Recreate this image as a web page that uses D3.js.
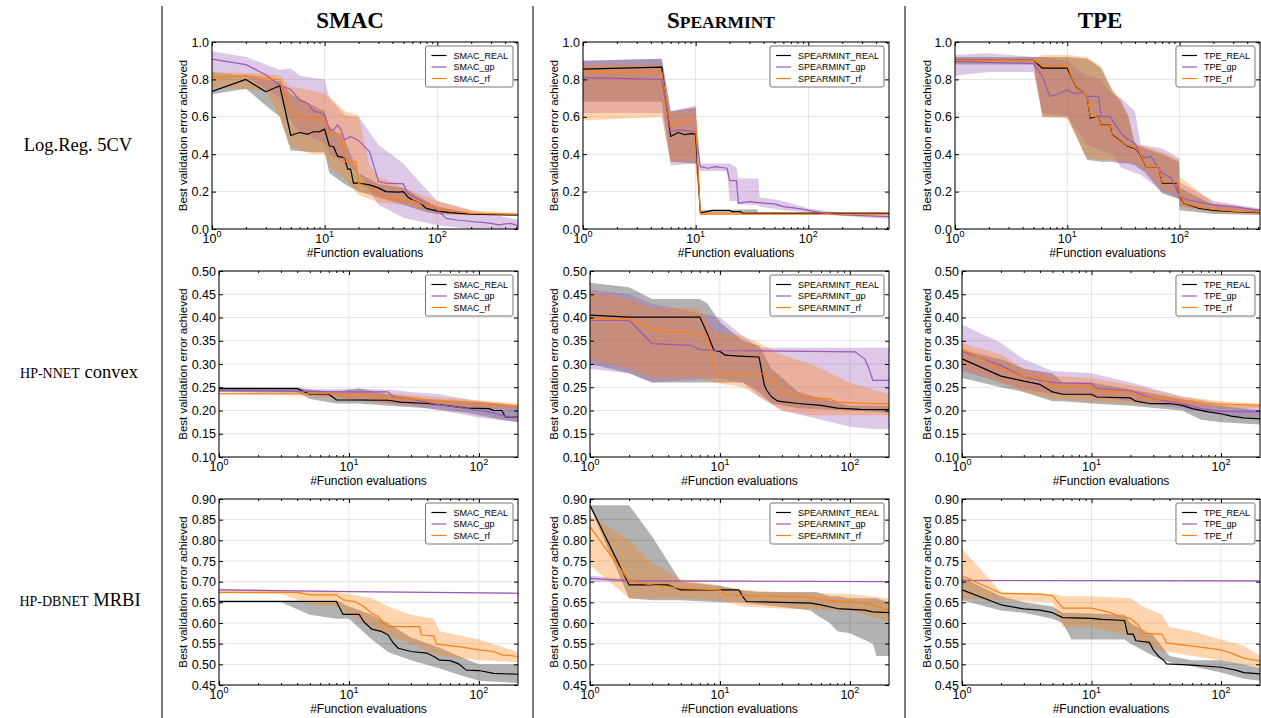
<!DOCTYPE html>
<html>
<head>
<meta charset="utf-8">
<script src="https://cdn.jsdelivr.net/npm/d3@7"></script>
<style>
  body { margin: 0; background: #fff; }
</style>
</head>
<body>
<div class="container"></div>
<script>
const width = 1261;
const height = 718;

const algorithms = ['SMAC', 'SPEARMINT', 'TPE'];
const suffixes = ['_REAL', '_gp', '_rf'];
const xMax = [520, 200, 200];
const yDomains = [[0, 1], [0.1, 0.5], [0.45, 0.9]];
const yTicks = [
  [0, 0.2, 0.4, 0.6, 0.8, 1.0],
  [0.10, 0.15, 0.20, 0.25, 0.30, 0.35, 0.40, 0.45, 0.50],
  [0.45, 0.50, 0.55, 0.60, 0.65, 0.70, 0.75, 0.80, 0.85, 0.90]
];
const xTicks = [1, 10, 100];

// ---- Log.Reg. 5CV ----  [x, mean]  and bands [x, lo, hi]
const lrSmacReal = [[1,.736],[2,.80],[3,.734],[4,.766],[5,.50],[6,.516],[7,.507],[8,.52],[9,.52],[10,.534],[11,.445],[12,.44],[13,.39],[15,.38],[16,.32],[17,.32],[18,.245],[20,.245],[25,.236],[30,.22],[35,.20],[45,.197],[50,.20],[55,.17],[60,.155],[70,.14],[80,.11],[100,.096],[130,.088],[200,.08],[520,.075]];
const lrSmacRealBand = [[1,.72,.84],[2,.75,.82],[3,.66,.80],[4,.60,.79],[5,.42,.72],[8,.41,.66],[10,.41,.63],[11,.30,.55],[15,.24,.48],[20,.20,.30],[30,.17,.24],[50,.13,.22],[80,.09,.15],[100,.08,.12],[200,.075,.085],[520,.07,.08]];
const lrSmacGp = [[1,.909],[2,.879],[3,.825],[4,.77],[5,.745],[6,.69],[7,.673],[8,.63],[9,.623],[10,.61],[11,.53],[12,.53],[13,.557],[14,.53],[15,.477],[17,.495],[20,.473],[25,.414],[28,.316],[30,.254],[35,.245],[50,.241],[55,.19],[70,.155],[90,.12],[100,.10],[120,.057],[150,.048],[200,.04],[250,.035],[300,.03],[350,.022],[400,.027],[450,.03],[520,.016]];
const lrSmacGpBand = [[1,.84,.95],[2,.82,.92],[4,.70,.85],[5,.58,.86],[6,.52,.82],[10,.46,.80],[11,.40,.70],[15,.35,.61],[20,.30,.60],[30,.13,.45],[50,.06,.35],[70,.04,.25],[100,.02,.15],[200,0,.10],[520,0,.05]];
const lrSmacRf = [[1,.81],[2,.82],[3,.807],[4,.798],[5,.637],[6,.60],[8,.588],[10,.588],[11,.51],[14,.51],[15,.36],[19,.36],[20,.245],[25,.22],[30,.19],[35,.165],[60,.152],[80,.13],[100,.11],[150,.093],[200,.084],[520,.079]];
const lrSmacRfBand = [[1,.76,.84],[3,.74,.83],[4,.60,.82],[5,.44,.76],[8,.40,.74],[10,.40,.72],[11,.33,.71],[15,.27,.63],[20,.18,.61],[25,.16,.34],[30,.14,.28],[50,.13,.22],[100,.08,.15],[200,.075,.10],[520,.075,.085]];

const lrSpearReal = [[1,.855],[5,.866],[6,.495],[7,.516],[8,.504],[9,.51],[10,.507],[11,.0875],[12,.09],[14,.10],[20,.10],[21,.093],[25,.093],[26,.084],[520,.084]];
const lrSpearRealBand = [[1,.68,.90],[5,.68,.91],[6,.36,.63],[10,.35,.65],[11,.08,.10],[35,.085,.105],[36,.08,.09],[520,.08,.09]];
const lrSpearGp = [[1,.81],[5,.80],[6,.52],[7,.53],[8,.527],[10,.52],[11,.334],[13,.325],[15,.334],[19,.325],[20,.259],[23,.259],[24,.138],[30,.146],[40,.138],[50,.134],[60,.12],[80,.11],[100,.10],[130,.0875],[160,.08],[200,.075],[300,.071],[520,.066]];
const lrSpearGpBand = [[1,.62,.90],[5,.62,.91],[6,.34,.63],[10,.35,.66],[11,.31,.35],[19,.31,.35],[20,.15,.35],[23,.15,.33],[24,.13,.27],[36,.13,.27],[37,.12,.17],[60,.10,.15],[100,.09,.11],[200,.07,.085],[520,.055,.08]];
const lrSpearRf = [[1,.84],[5,.84],[6,.557],[7,.566],[8,.571],[10,.571],[11,.08],[520,.08]];
const lrSpearRfBand = [[1,.58,.88],[5,.60,.88],[6,.36,.62],[10,.36,.64],[11,.075,.09],[520,.075,.09]];

const lrTpeReal = [[1,.902],[5,.902],[6,.86],[10,.86],[11,.807],[12,.762],[14,.727],[15,.709],[16,.593],[19,.605],[20,.557],[24,.557],[25,.504],[30,.468],[35,.441],[40,.432],[45,.396],[50,.334],[65,.334],[70,.245],[95,.245],[100,.173],[110,.1375],[150,.11],[200,.10],[300,.093],[520,.0875]];
const lrTpeRealBand = [[1,.88,.92],[5,.88,.92],[6,.60,.92],[10,.60,.92],[15,.37,.91],[20,.36,.86],[25,.36,.74],[30,.35,.68],[35,.35,.60],[40,.34,.45],[50,.30,.43],[70,.19,.40],[99,.16,.36],[100,.10,.22],[200,.08,.13],[520,.075,.10]];
const lrTpeGp = [[1,.896],[5,.884],[6,.816],[7,.709],[8,.718],[10,.745],[11,.727],[14,.727],[15,.709],[19,.709],[20,.602],[24,.602],[30,.512],[35,.477],[40,.459],[45,.40],[50,.38],[55,.39],[70,.30],[85,.27],[100,.173],[120,.155],[200,.129],[300,.12],[520,.10]];
const lrTpeGpBand = [[1,.82,.93],[2,.84,.94],[5,.84,.92],[6,.62,.92],[10,.60,.90],[15,.45,.82],[20,.42,.80],[25,.40,.72],[30,.33,.70],[40,.30,.63],[45,.29,.45],[70,.20,.43],[99,.16,.38],[100,.12,.25],[200,.10,.15],[520,.085,.11]];
const lrTpeRf = [[1,.902],[5,.902],[6,.875],[10,.875],[11,.81],[12,.765],[14,.725],[15,.712],[16,.60],[19,.605],[20,.555],[24,.555],[25,.50],[30,.465],[35,.445],[40,.435],[45,.40],[50,.335],[65,.335],[70,.25],[95,.25],[100,.18],[110,.14],[150,.115],[200,.105],[300,.095],[520,.09]];
const lrTpeRfBand = [[1,.89,.91],[5,.89,.91],[6,.60,.93],[10,.59,.93],[15,.38,.92],[20,.37,.87],[25,.37,.75],[30,.36,.69],[35,.36,.61],[40,.35,.46],[50,.31,.44],[70,.21,.41],[99,.18,.37],[100,.12,.28],[200,.09,.14],[520,.08,.105]];

// ---- HP-NNET convex ----
const nnSmacReal = [[1,.247],[4,.247],[5,.235],[7,.235],[8,.223],[20,.222],[25,.218],[40,.215],[55,.211],[80,.205],[120,.204],[130,.20],[150,.20],[160,.186],[200,.186]];
const nnSmacRealBand = [[1,.24,.25],[4,.24,.25],[5,.225,.245],[8,.215,.24],[12,.215,.248],[20,.21,.235],[40,.205,.225],[80,.195,.22],[150,.18,.215],[200,.175,.21]];
const nnSmacGp = [[1,.243],[10,.24],[20,.24],[22,.229],[30,.225],[50,.212],[70,.207],[100,.20],[130,.195],[160,.188],[200,.185]];
const nnSmacGpBand = [[1,.24,.245],[5,.235,.245],[10,.225,.247],[20,.215,.245],[30,.21,.24],[50,.20,.235],[100,.185,.22],[200,.175,.21]];
const nnSmacRf = [[1,.236],[8,.236],[9,.233],[15,.233],[16,.229],[30,.225],[60,.218],[100,.215],[200,.21]];
const nnSmacRfBand = [[1,.235,.238],[4,.232,.24],[10,.225,.24],[20,.215,.237],[50,.21,.228],[100,.205,.222],[200,.205,.215]];

const nnSpearReal = [[1,.405],[2,.401],[7,.401],[8,.365],[9,.329],[10,.327],[11,.319],[14,.317],[20,.315],[21,.283],[22,.254],[23,.243],[25,.229],[28,.22],[40,.215],[60,.211],[80,.205],[120,.2025],[200,.202]];
const nnSpearRealBand = [[1,.30,.475],[2,.28,.465],[3,.26,.44],[7,.26,.44],[8,.26,.43],[10,.26,.39],[15,.26,.35],[20,.24,.34],[25,.215,.29],[40,.205,.24],[100,.20,.21],[200,.195,.21]];
const nnSpearGp = [[1,.394],[2,.394],[3,.344],[6,.34],[7,.331],[10,.329],[110,.326],[130,.311],[140,.291],[150,.265],[200,.265]];
const nnSpearGpBand = [[1,.29,.46],[2,.28,.45],[3,.26,.43],[10,.27,.40],[15,.26,.36],[20,.23,.335],[30,.20,.335],[60,.18,.335],[100,.165,.335],[150,.16,.335],[200,.16,.335]];
const nnSpearRf = [[1,.396],[2,.396],[3,.376],[4,.369],[6,.369],[7,.36],[8,.36],[9,.286],[10,.279],[22,.279],[23,.265],[27,.265],[28,.245],[35,.236],[50,.227],[70,.225],[80,.218],[150,.215],[200,.215]];
const nnSpearRfBand = [[1,.31,.455],[2,.29,.44],[3,.27,.42],[7,.27,.42],[9,.26,.37],[15,.25,.36],[20,.23,.345],[30,.20,.32],[50,.19,.30],[100,.19,.26],[200,.19,.235]];

const nnTpeReal = [[1,.311],[2,.274],[3,.263],[4,.256],[5,.24],[6,.235],[10,.235],[11,.229],[20,.227],[22,.22],[28,.215],[40,.215],[50,.211],[60,.204],[80,.197],[100,.193],[120,.188],[150,.184],[200,.182]];
const nnTpeRealBand = [[1,.27,.33],[2,.25,.31],[3,.24,.29],[5,.22,.28],[6,.22,.26],[10,.215,.26],[20,.21,.245],[50,.20,.225],[70,.18,.215],[100,.175,.21],[200,.17,.20]];
const nnTpeGp = [[1,.327],[2,.297],[3,.272],[4,.265],[5,.26],[10,.258],[11,.247],[20,.243],[25,.233],[30,.225],[50,.215],[70,.204],[100,.198],[200,.197]];
const nnTpeGpBand = [[1,.285,.385],[2,.26,.345],[3,.245,.31],[5,.235,.285],[10,.23,.28],[20,.22,.26],[50,.205,.23],[100,.19,.215],[200,.185,.21]];
const nnTpeRf = [[1,.332],[2,.29],[3,.272],[4,.272],[5,.251],[10,.251],[11,.24],[20,.24],[22,.233],[30,.225],[60,.22],[80,.215],[200,.211]];
const nnTpeRfBand = [[1,.29,.345],[2,.26,.32],[3,.24,.29],[5,.225,.275],[10,.22,.27],[20,.215,.255],[50,.21,.23],[100,.205,.22],[200,.205,.215]];

// ---- HP-DBNET MRBI ----
const dbSmacReal = [[1,.652],[8,.652],[9,.621],[12,.621],[13,.603],[15,.585],[18,.579],[20,.571],[22,.551],[24,.539],[30,.531],[40,.527],[45,.519],[50,.51],[60,.509],[70,.501],[80,.486],[100,.485],[130,.478],[200,.476]];
const dbSmacRealBand = [[1,.65,.655],[3,.65,.655],[5,.62,.655],[8,.61,.655],[10,.61,.64],[15,.56,.62],[20,.53,.60],[30,.51,.565],[50,.49,.54],[70,.475,.52],[100,.46,.50],[200,.455,.50]];
const dbSmacGp = [[1,.68],[10,.676],[200,.672]];
const dbSmacGpBand = [[1,.678,.683],[10,.675,.677],[200,.671,.673]];
const dbSmacRf = [[1,.674],[4,.674],[5,.668],[8,.668],[9,.656],[11,.652],[13,.64],[15,.623],[17,.615],[18,.603],[20,.591],[35,.591],[36,.571],[45,.569],[47,.549],[70,.543],[100,.535],[130,.531],[150,.523],[200,.519]];
const dbSmacRfBand = [[1,.672,.677],[3,.67,.677],[5,.645,.675],[8,.64,.675],[10,.62,.67],[15,.59,.66],[20,.57,.64],[30,.55,.62],[45,.525,.61],[50,.52,.58],[100,.51,.56],[200,.505,.53]];

const dbSpearReal = [[1,.885],[2,.692],[4,.692],[5,.68],[14,.68],[15,.664],[16,.652],[50,.648],[60,.644],[80,.635],[130,.631],[150,.627],[200,.625]];
const dbSpearRealBand = [[1,.88,.885],[2,.66,.885],[3,.655,.81],[5,.655,.70],[10,.65,.69],[14,.65,.68],[20,.645,.675],[50,.63,.675],[55,.62,.675],[70,.60,.665],[80,.58,.665],[100,.575,.66],[150,.55,.66],[160,.52,.66],[200,.52,.65]];
const dbSpearGp = [[1,.708],[2,.702],[200,.70]];
const dbSpearGpBand = [[1,.70,.715],[2,.70,.705],[200,.699,.701]];
const dbSpearRf = [[1,.833],[2,.702],[3,.692],[4,.688],[5,.684],[10,.68],[11,.668],[30,.664],[50,.662],[60,.656],[100,.652],[150,.644],[200,.631]];
const dbSpearRfBand = [[1,.74,.86],[2,.66,.80],[3,.66,.745],[5,.66,.705],[10,.655,.69],[15,.64,.68],[30,.635,.675],[100,.63,.67],[200,.605,.66]];

const dbTpeReal = [[1,.68],[2,.644],[3,.634],[4,.631],[5,.625],[6,.613],[10,.611],[12,.609],[18,.606],[19,.573],[21,.573],[22,.557],[28,.553],[30,.535],[33,.519],[36,.51],[38,.501],[60,.498],[100,.493],[130,.486],[150,.48],[200,.477]];
const dbTpeRealBand = [[1,.655,.71],[2,.63,.665],[3,.625,.65],[5,.61,.64],[6,.60,.625],[7,.56,.625],[18,.56,.62],[20,.55,.60],[30,.52,.57],[40,.505,.52],[60,.495,.51],[100,.48,.51],[150,.465,.50],[200,.46,.49]];
const dbTpeGp = [[1,.703],[200,.702]];
const dbTpeGpBand = [[1,.702,.704],[200,.701,.703]];
const dbTpeRf = [[1,.714],[2,.672],[4,.67],[5,.666],[6,.636],[10,.636],[14,.625],[17,.614],[20,.611],[23,.595],[25,.575],[35,.573],[38,.552],[60,.544],[80,.539],[100,.535],[120,.527],[150,.515],[200,.508]];
const dbTpeRfBand = [[1,.66,.78],[2,.655,.675],[5,.65,.67],[6,.59,.665],[10,.59,.665],[20,.57,.66],[25,.55,.64],[35,.53,.62],[40,.53,.59],[60,.52,.58],[100,.51,.56],[150,.50,.545],[200,.49,.52]];

// rows x columns, each: [real, realBand, gp, gpBand, rf, rfBand]
const grid = [
  [[lrSmacReal, lrSmacRealBand, lrSmacGp, lrSmacGpBand, lrSmacRf, lrSmacRfBand],
   [lrSpearReal, lrSpearRealBand, lrSpearGp, lrSpearGpBand, lrSpearRf, lrSpearRfBand],
   [lrTpeReal, lrTpeRealBand, lrTpeGp, lrTpeGpBand, lrTpeRf, lrTpeRfBand]],
  [[nnSmacReal, nnSmacRealBand, nnSmacGp, nnSmacGpBand, nnSmacRf, nnSmacRfBand],
   [nnSpearReal, nnSpearRealBand, nnSpearGp, nnSpearGpBand, nnSpearRf, nnSpearRfBand],
   [nnTpeReal, nnTpeRealBand, nnTpeGp, nnTpeGpBand, nnTpeRf, nnTpeRfBand]],
  [[dbSmacReal, dbSmacRealBand, dbSmacGp, dbSmacGpBand, dbSmacRf, dbSmacRfBand],
   [dbSpearReal, dbSpearRealBand, dbSpearGp, dbSpearGpBand, dbSpearRf, dbSpearRfBand],
   [dbTpeReal, dbTpeRealBand, dbTpeGp, dbTpeGpBand, dbTpeRf, dbTpeRfBand]]
];

const colors = ['#000000', '#9b59b6', '#ff7f0e'];

// layout
const plotLeft = [[212, 583, 955], [219, 590, 962], [219, 590, 962]];
const plotRight = [518, 889, 1260];
const plotTop = [42, 271, 499];
const plotBottom = [229, 457, 685];
const yLabelX = [183, 554, 927];
const sans = '"Liberation Sans", Arial, sans-serif';
const serif = '"Liberation Serif", "Times New Roman", serif';

const svg = d3.select('.container')
  .append('svg')
  .attr('width', width)
  .attr('height', height)
  .style('font-family', sans);

// column dividers
[162, 533, 905].forEach(x => {
  svg.append('line')
    .attr('x1', x).attr('x2', x).attr('y1', 6).attr('y2', height)
    .attr('stroke', '#333').attr('stroke-width', 1.3);
});

// column titles
const titles = svg.append('g')
  .style('font-family', serif)
  .style('font-weight', 'bold')
  .attr('text-anchor', 'middle');
titles.append('text').attr('x', 350).attr('y', 28).style('font-size', '23px').text('SMAC');
const sp = titles.append('text').attr('x', 721).attr('y', 28).style('font-size', '23px');
sp.append('tspan').text('S');
sp.append('tspan').style('font-size', '17.5px').text('PEARMINT');
titles.append('text').attr('x', 1100).attr('y', 28).style('font-size', '23px').text('TPE');

// row labels
const rowLab = svg.append('g').style('font-family', serif).attr('text-anchor', 'middle');
rowLab.append('text').attr('x', 78).attr('y', 151).style('font-size', '18.5px').text('Log.Reg. 5CV');
const r2 = rowLab.append('text').attr('x', 79).attr('y', 378).style('font-size', '18.5px');
r2.append('tspan').style('font-size', '14px').text('HP-NNET');
r2.append('tspan').text(' convex');
const r3 = rowLab.append('text').attr('x', 80).attr('y', 606).style('font-size', '18.5px');
r3.append('tspan').style('font-size', '14px').text('HP-DBNET');
r3.append('tspan').text(' MRBI');

grid.forEach((row, r) => row.forEach((series, c) => {
  const left = plotLeft[r][c];
  const right = plotRight[c];
  const top = plotTop[r];
  const bottom = plotBottom[r];

  const x = d3.scaleLog().domain([1, xMax[r]]).range([left, right]);
  const y = d3.scaleLinear().domain(yDomains[r]).range([bottom, top]);
  const minor = d3.range(0, 3).flatMap(e => d3.range(2, 10).map(m => m * 10 ** e)).filter(v => v < xMax[r]);

  const g = svg.append('g');
  const clipId = `clip-${r}-${c}`;
  svg.append('clipPath').attr('id', clipId)
    .append('rect')
    .attr('x', left).attr('y', top)
    .attr('width', right - left).attr('height', bottom - top);

  // grid
  g.append('g').selectAll('line').data(yTicks[r]).join('line')
    .attr('x1', left).attr('x2', right)
    .attr('y1', d => y(d)).attr('y2', d => y(d))
    .attr('stroke', '#e3e3e3');
  g.append('g').selectAll('line').data(xTicks).join('line')
    .attr('x1', d => x(d)).attr('x2', d => x(d))
    .attr('y1', top).attr('y2', bottom)
    .attr('stroke', '#e3e3e3');

  const plot = g.append('g').attr('clip-path', `url(#${clipId})`);

  const area = d3.area()
    .x(d => x(d[0]))
    .y0(d => y(d[1]))
    .y1(d => y(d[2]));
  const line = d3.line()
    .x(d => x(d[0]))
    .y(d => y(d[1]));

  [0, 1, 2].forEach(k => {
    plot.append('path')
      .attr('d', area(series[k * 2 + 1]))
      .attr('fill', colors[k])
      .attr('fill-opacity', k === 0 ? 0.3 : 0.33);
  });
  [0, 1, 2].forEach(k => {
    plot.append('path')
      .attr('d', line(series[k * 2]))
      .attr('fill', 'none')
      .attr('stroke', colors[k])
      .attr('stroke-width', 1.2)
      .attr('stroke-linejoin', 'round');
  });

  // ticks, inward on all four sides
  const tickStyle = sel => {
    sel.select('.domain').remove();
    sel.selectAll('line').attr('stroke', '#000');
    sel.selectAll('text').style('font-size', '12.5px').attr('fill', '#000').style('font-family', sans);
  };
  g.append('g').attr('transform', `translate(${left},0)`)
    .call(d3.axisLeft(y).tickValues(yTicks[r]).tickSize(-4).tickPadding(3)
      .tickFormat(d3.format(r === 0 ? '.1f' : '.2f')))
    .call(tickStyle);
  g.append('g').attr('transform', `translate(${right},0)`)
    .call(d3.axisRight(y).tickValues(yTicks[r]).tickSize(-4).tickFormat(''))
    .call(tickStyle);
  [[bottom, d3.axisBottom], [top, d3.axisTop]].forEach(([pos, axis]) => {
    g.append('g').attr('transform', `translate(0,${pos})`)
      .call(axis(x).tickValues(xTicks).tickSize(-4).tickFormat(''))
      .call(tickStyle);
    g.append('g').attr('transform', `translate(0,${pos})`)
      .call(axis(x).tickValues(minor).tickSize(-2).tickFormat(''))
      .call(tickStyle);
  });

  // x tick labels 10^n
  xTicks.forEach((v, i) => {
    const t = g.append('text')
      .attr('x', x(v)).attr('y', bottom + 14)
      .attr('text-anchor', 'middle')
      .style('font-size', '12.5px');
    t.append('tspan').text('10');
    t.append('tspan').attr('dy', -6).style('font-size', '9px').text(i);
  });

  // frame
  g.append('rect')
    .attr('x', left).attr('y', top)
    .attr('width', right - left).attr('height', bottom - top)
    .attr('fill', 'none').attr('stroke', '#000').attr('stroke-width', 1);

  // axis titles
  g.append('text')
    .attr('x', (left + right) / 2).attr('y', bottom + 28)
    .attr('text-anchor', 'middle')
    .style('font-size', '12px')
    .text('#Function evaluations');
  g.append('text')
    .attr('transform', `translate(${yLabelX[c]},${(top + bottom) / 2}) rotate(-90)`)
    .attr('dy', '0.35em')
    .attr('text-anchor', 'middle')
    .style('font-size', '11.5px')
    .text('Best validation error achieved');

  // legend
  const leg = g.append('g');
  const box = leg.append('rect');
  const texts = suffixes.map((s, k) => leg.append('text')
    .attr('y', top + 4 + 9.5 + k * 11.5 + 3)
    .style('font-size', '9px')
    .text(algorithms[c] + s));
  const tw = d3.max(texts, t => t.node().getComputedTextLength());
  const bw = tw + 33;
  const bx = right - 5 - bw;
  box.attr('x', bx).attr('y', top + 4)
    .attr('width', bw).attr('height', 41)
    .attr('rx', 2)
    .attr('fill', '#fff').attr('stroke', '#777').attr('stroke-width', 1);
  texts.forEach((t, k) => {
    t.attr('x', bx + 28);
    leg.append('line')
      .attr('x1', bx + 6).attr('x2', bx + 21)
      .attr('y1', top + 4 + 9.5 + k * 11.5).attr('y2', top + 4 + 9.5 + k * 11.5)
      .attr('stroke', colors[k]).attr('stroke-width', 1.2);
  });
}));
</script>
</body>
</html>
